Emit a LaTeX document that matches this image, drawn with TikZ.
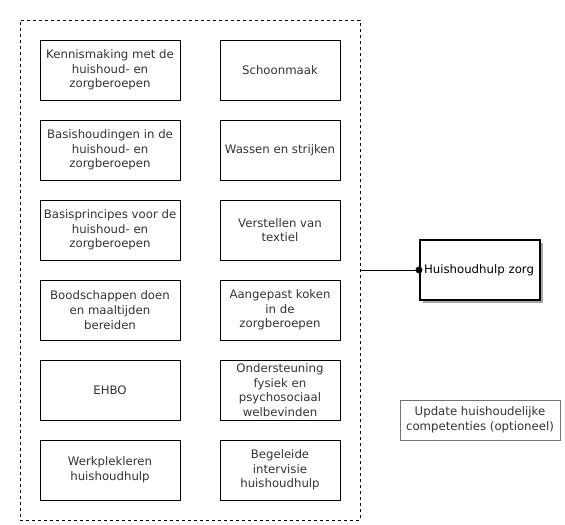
\documentclass[tikz,border=0pt]{standalone}
\usepackage{fontspec}
\setmainfont{DejaVu Sans}
\usetikzlibrary{arrows.meta, shadows}

\begin{document}
\begin{tikzpicture}[x=0.75pt, y=-0.75pt, line width=0.75pt,
  font=\fontsize{8.8}{11}\selectfont, text=black!80,
  wide/.style={draw, minimum width=105pt, minimum height=45pt, align=center, inner sep=1pt},
  narrow/.style={draw, minimum width=90pt, minimum height=45pt, align=center, inner sep=1pt}]
\useasboundingbox (0,0) rectangle (565,525);
\node[draw, dash pattern=on 2.25pt off 2.25pt, minimum width=255pt, minimum height=375pt] (0) at (190,270) {};
% left column
\node[wide] (1) at (110,70) {Kennismaking met de\\huishoud- en\\zorgberoepen};
\node[wide] (2) at (110,150) {Basishoudingen in de\\huishoud- en\\zorgberoepen};
\node[wide] (3) at (110,230) {Basisprincipes voor de\\huishoud- en\\zorgberoepen};
\node[wide] (4) at (110,310) {Boodschappen doen\\en maaltijden\\bereiden};
\node[wide] (5) at (110,390) {EHBO};
\node[wide] (6) at (110,470) {Werkplekleren\\huishoudhulp};
% right column
\node[narrow] (7) at (280,70) {Schoonmaak};
\node[narrow] (8) at (280,150) {Wassen en strijken};
\node[narrow] (9) at (280,230) {Verstellen van\\textiel};
\node[narrow] (10) at (280,310) {Aangepast koken\\in de\\zorgberoepen};
\node[narrow] (11) at (280,390) {Ondersteuning\\fysiek en\\psychosociaal\\welbevinden};
\node[narrow] (12) at (280,470) {Begeleide\\intervisie\\huishoudhulp};
% outside
\node[draw, fill=white, line width=1.5pt, text width=84pt, inner sep=3pt, minimum height=45pt, align=left, text=black,
  drop shadow={shadow xshift=2.25pt, shadow yshift=-2.25pt, fill=black!35, opacity=1}] (13) at (480,270) {Huishoudhulp zorg};
\node[draw=black!55, minimum width=120pt, minimum height=30pt, align=center, inner sep=1pt] (14) at (480,420) {Update huishoudelijke\\competenties (optioneel)};
\draw (0.east) -- (13.west);
\fill (13.west) circle[radius=2.6pt];
\end{tikzpicture}
\end{document}
